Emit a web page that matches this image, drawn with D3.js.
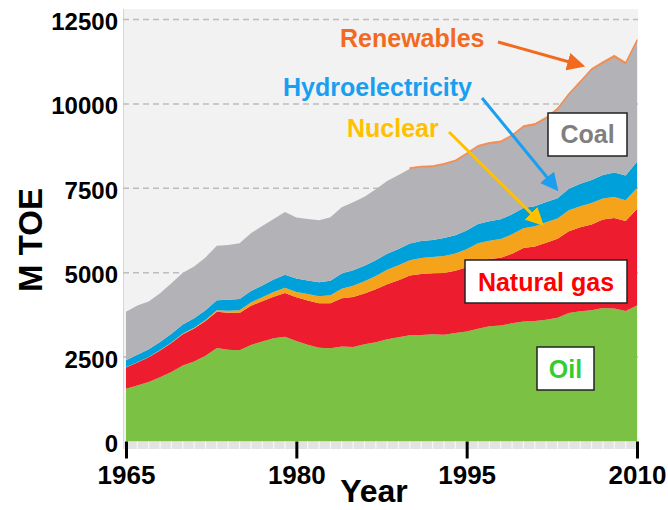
<!DOCTYPE html>
<html><head><meta charset="utf-8">
<script src="https://cdn.jsdelivr.net/npm/d3@7"></script>
<style>
body{margin:0;background:#fff}
svg{display:block;font-family:"Liberation Sans",Arial,Helvetica,sans-serif;font-weight:bold}
</style>
</head><body>
<svg id="c" width="668" height="510"></svg>
<script>
// ---- data (Mtoe) ----
const years = [1965,1966,1967,1968,1969,1970,1971,1972,1973,1974,1975,1976,1977,1978,1979,
  1980,1981,1982,1983,1984,1985,1986,1987,1988,1989,1990,1991,1992,1993,1994,
  1995,1996,1997,1998,1999,2000,2001,2002,2003,2004,2005,2006,2007,2008,2009,2010];
const oil = [1560,1660,1765,1905,2060,2254,2371,2541,2770,2715,2700,2860,2962,3055,3103,
  2974,2866,2779,2760,2814,2802,2884,2941,3031,3087,3150,3157,3178,3162,3217,
  3262,3340,3416,3433,3504,3555,3570,3606,3667,3805,3857,3889,3952,3937,3868,4028];
const gas = [630,680,728,790,861,924,977,1025,1074,1097,1107,1162,1190,1229,1299,
  1296,1310,1314,1336,1431,1479,1498,1566,1624,1692,1769,1802,1807,1832,1842,
  1903,1988,1987,2010,2061,2176,2207,2282,2336,2422,2488,2537,2621,2686,2661,2858];
const nuclear = [6,8,9,12,14,18,25,33,46,59,83,98,124,144,149,
  161,191,207,235,283,335,364,396,429,444,453,475,479,497,509,
  526,545,543,554,574,584,601,610,599,625,627,635,622,620,614,626];
const hydro = [209,222,227,237,254,267,278,291,296,327,330,336,344,370,388,
  398,405,416,433,448,455,461,466,480,480,490,504,507,535,540,
  562,570,581,584,590,601,590,597,600,633,661,688,697,722,736,776];
const coal = [1440,1457,1420,1450,1500,1536,1536,1563,1614,1622,1654,1716,1760,1796,1862,
  1807,1820,1836,1880,1960,2014,2043,2101,2153,2190,2220,2187,2164,2178,2193,
  2255,2292,2293,2283,2316,2398,2408,2469,2632,2784,3000,3250,3310,3420,3300,3556];
const renewables = [null,null,null,null,null,null,null,null,null,null,null,null,null,null,null,
  null,null,null,null,null,null,null,null,null,null,30,31,32,33,34,
  35,36,37,38,39,40,41,42,43,44,46,48,50,53,56,60];
const xTicks = [1965,1980,1995,2010];
const yTicks = [0,2500,5000,7500,10000,12500];
const keys = ["oil","gas","nuclear","hydro","coal","renewables"];
const colors = {oil:"#7bc143",gas:"#ed1c2e",nuclear:"#f6a31c",hydro:"#00a1db",coal:"#b3b2b7",renewables:"#f08a4c"};

// ---- build table ----
const rows = years.map((yr,i)=>({year:yr,oil:oil[i],gas:gas[i],nuclear:nuclear[i],hydro:hydro[i],coal:coal[i],renewables:renewables[i]||0,hasR:renewables[i]!=null}));

const svg = d3.select("#c");
const x = d3.scaleLinear().domain([1965,2010]).range([126,637]);
const y = d3.scaleLinear().domain([0,12500]).range([441.5,19.5]);
const L=123, R=638, T=9, B=441.5;

// background
svg.append("rect").attr("x",L).attr("y",T).attr("width",R-L).attr("height",B-T).attr("fill","#f2f2f2");
svg.append("line").attr("x1",L+0.5).attr("x2",L+0.5).attr("y1",T).attr("y2",B).attr("stroke","#d6d6d6").attr("stroke-width",1);

// grid
svg.append("g").selectAll("line").data(yTicks.filter(v=>v>0)).join("line")
  .attr("x1",L).attr("x2",R).attr("y1",d=>y(d)).attr("y2",d=>y(d))
  .attr("stroke","#bdbdbd").attr("stroke-width",1.5).attr("stroke-dasharray","6,4");

// stack
const stack = d3.stack().keys(keys);
const series = stack(rows);
const area = d3.area().x(d=>x(d.data.year)).y0(d=>y(d[0])).y1(d=>y(d[1]));
svg.append("g").selectAll("path").data(series.filter(s=>s.key!=="renewables")).join("path")
  .attr("d",area).attr("fill",s=>colors[s.key]);
const rs = series.find(s=>s.key==="renewables");
const areaR = d3.area().defined(d=>d.data.hasR).x(d=>x(d.data.year)).y0(d=>y(d[0])).y1(d=>y(d[1]));
svg.append("path").datum(rs).attr("d",areaR).attr("fill",colors.renewables)
  .attr("stroke",colors.renewables).attr("stroke-width",0.8);

// bottom strip with minor ticks
svg.append("rect").attr("x",L).attr("y",B).attr("width",R-L).attr("height",7.5).attr("fill","#e3e3e3");
svg.append("g").selectAll("line").data(years).join("line")
  .attr("x1",d=>x(d)).attr("x2",d=>x(d)).attr("y1",B).attr("y2",B+7.5)
  .attr("stroke","#f7f7f7").attr("stroke-width",1.2);

// x axis
const xa = svg.append("g").attr("transform",`translate(0,${B})`)
  .call(d3.axisBottom(x).tickValues(xTicks).tickFormat(d3.format("d")).tickSize(17).tickPadding(7));
xa.select(".domain").remove();
xa.selectAll(".tick line").attr("stroke","#000").attr("stroke-width",3);
xa.selectAll(".tick text").attr("font-size",26).attr("font-family","Liberation Sans, Arial, sans-serif").attr("font-weight","bold").attr("fill","#000");

// y axis
const ya = svg.append("g").attr("transform",`translate(118,0)`)
  .call(d3.axisLeft(y).tickValues(yTicks).tickFormat(d3.format("d")).tickSize(0).tickPadding(0));
ya.select(".domain").remove();
ya.selectAll(".tick text").attr("font-size",24).attr("dy","0.42em").attr("font-family","Liberation Sans, Arial, sans-serif").attr("font-weight","bold").attr("fill","#000");

// axis titles
svg.append("text").attr("x",374).attr("y",502).attr("text-anchor","middle").attr("font-size",32).text("Year");
svg.append("text").attr("transform","translate(42,240) rotate(-90)").attr("text-anchor","middle").attr("font-size",33).text("M TOE");

// arrow markers
const defs = svg.append("defs");
function marker(id,color){
  defs.append("marker").attr("id",id).attr("viewBox","0 0 10 10").attr("refX",7).attr("refY",5)
    .attr("markerWidth",6).attr("markerHeight",6).attr("markerUnits","strokeWidth").attr("orient","auto")
    .append("path").attr("d","M0,0 L10,5 L0,10 Z").attr("fill",color);
}
marker("mR","#f26a1f"); marker("mH","#1a9ff0"); marker("mN","#ffc000");

const ann = svg.append("g");
ann.append("text").attr("x",340).attr("y",47).attr("font-size",25).attr("fill","#f26a1f").text("Renewables");
ann.append("line").attr("x1",498).attr("y1",42).attr("x2",580).attr("y2",65).attr("stroke","#f26a1f").attr("stroke-width",3).attr("marker-end","url(#mR)");
ann.append("text").attr("x",283).attr("y",96).attr("font-size",25).attr("fill","#1a9ff0").text("Hydroelectricity");
ann.append("line").attr("x1",482).attr("y1",98).attr("x2",555).attr("y2",187).attr("stroke","#1a9ff0").attr("stroke-width",3).attr("marker-end","url(#mH)");
ann.append("text").attr("x",347).attr("y",137).attr("font-size",25).attr("fill","#ffc000").text("Nuclear");
ann.append("line").attr("x1",449).attr("y1",132).attr("x2",540).attr("y2",222).attr("stroke","#ffc000").attr("stroke-width",3).attr("marker-end","url(#mN)");

function box(x0,y0,w,h,txt,col,ty){
  ann.append("rect").attr("x",x0).attr("y",y0).attr("width",w).attr("height",h).attr("fill","#fff").attr("stroke","#222").attr("stroke-width",1.5);
  ann.append("text").attr("x",x0+w/2).attr("y",ty).attr("text-anchor","middle").attr("font-size",25).attr("fill",col).text(txt);
}
box(548,113,79,43,"Coal","#7f7f7f",143);
box(465,260,162,43,"Natural gas","#ff0000",291);
box(537,347,57,43,"Oil","#33cc33",378);
</script>
</body></html>
